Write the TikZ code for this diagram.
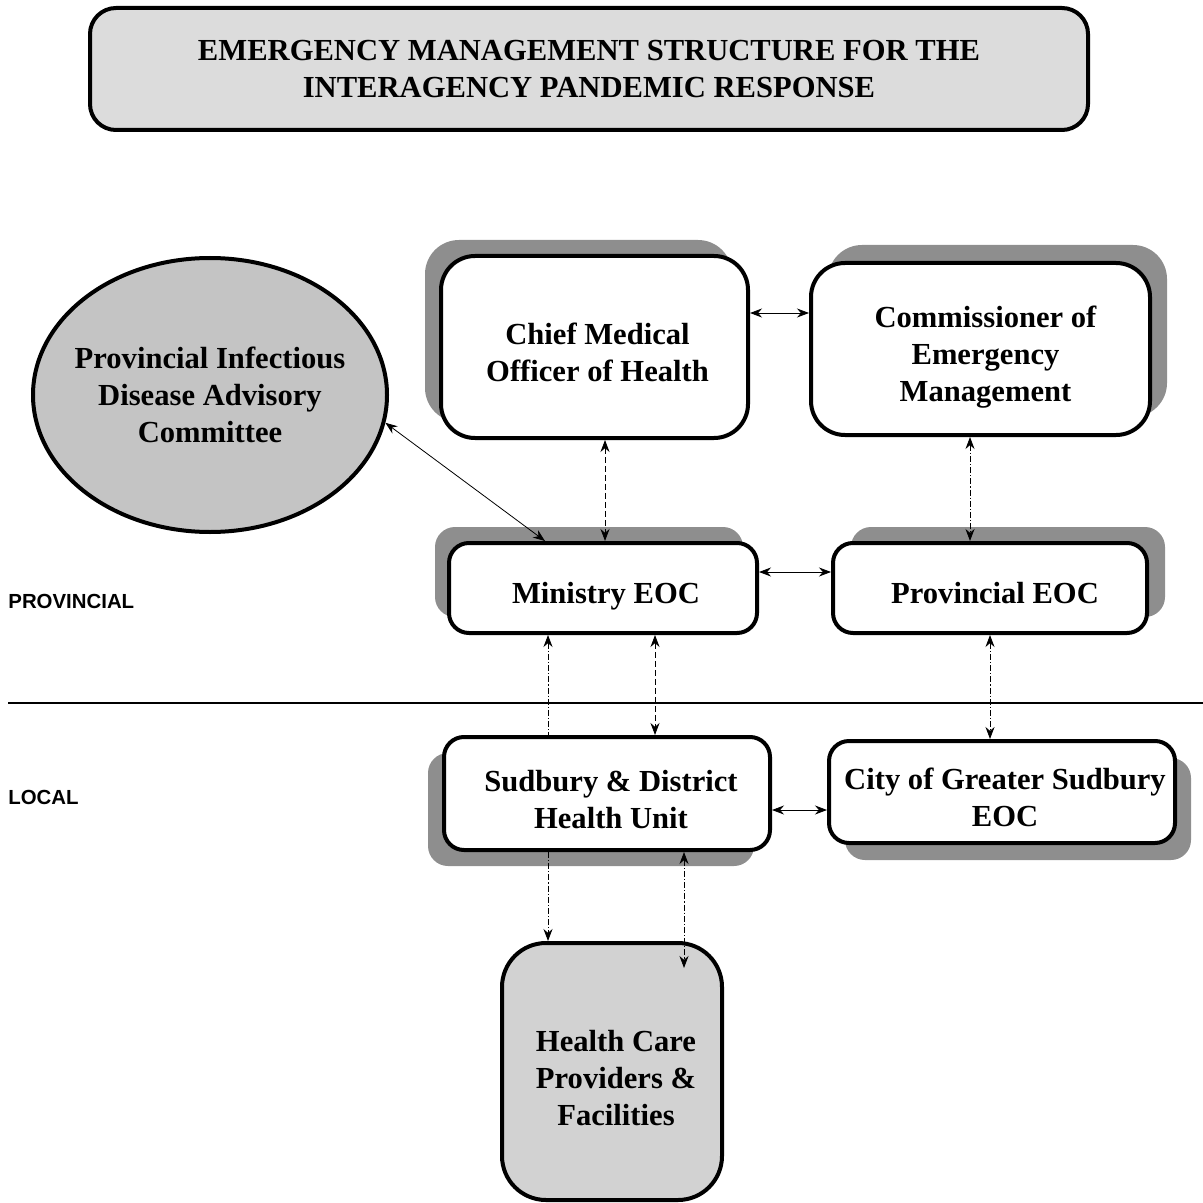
\documentclass[tikz,border=0pt]{standalone}
\usepackage{fontspec}
\setmainfont{Liberation Serif}
\setsansfont{Liberation Sans}
\usetikzlibrary{shadows,shapes.geometric,arrows.meta}
\definecolor{shadegray}{HTML}{8E8E8E}
\definecolor{titlefill}{HTML}{DCDCDC}
\definecolor{ovalfill}{HTML}{C4C4C4}
\definecolor{hcfill}{HTML}{D2D2D2}
\begin{document}
\begin{tikzpicture}[x=0.5pt,y=-0.5pt,
  >={Stealth[length=6pt,width=4.5pt]},
  boxtext/.style={font=\bfseries\fontsize{15.3}{18.5}\selectfont, align=center},
  orgbox/.style={draw=black, line width=2pt, fill=white, rectangle, inner sep=0pt},
  sh/.style 2 args={general shadow={fill=shadegray, shadow xshift=#1, shadow yshift=#2}},
  lvl/.style={font=\sffamily\bfseries\fontsize{10.2}{12}\selectfont, anchor=west, inner sep=0pt},
  link/.style={line width=0.4pt, <->},
  dlink/.style={line width=0.4pt, <->, dash pattern=on 3pt off 1.5pt},
  ddlink/.style={line width=0.4pt, <->, dash pattern=on 3pt off 1pt on 0.6pt off 1pt}
]
\useasboundingbox (0,0) rectangle (1203,1203);

% title
\node[boxtext, draw=black, line width=2pt, fill=titlefill, rounded corners=13pt,
  minimum width=499pt, minimum height=61pt] (title) at (589,69)
  {EMERGENCY MANAGEMENT STRUCTURE FOR THE\\INTERAGENCY PANDEMIC RESPONSE};

% advisory committee
\node[boxtext, ellipse, draw=black, line width=2pt, fill=ovalfill,
  minimum width=177pt, minimum height=137pt, inner xsep=-6pt, inner ysep=0pt] (pidac) at (210,395)
  {Provincial Infectious\\Disease Advisory\\Committee};

% provincial boxes
\node[orgbox, rounded corners=17pt, minimum width=153.5pt, minimum height=91pt, sh={-8pt}{8pt},
  label={[boxtext, xshift=1.5pt, yshift=-2.5pt]center:Chief Medical\\Officer of Health}]
  (cmoh) at (594.5,347) {};
\node[orgbox, rounded corners=17pt, minimum width=169.5pt, minimum height=86pt, sh={8.5pt}{9pt},
  label={[boxtext, xshift=2.5pt, yshift=-4pt]center:Commissioner of\\Emergency\\Management}]
  (comm) at (980.5,349) {};
\node[orgbox, rounded corners=10pt, minimum width=154pt, minimum height=45pt, sh={-7pt}{8pt},
  label={[boxtext, xshift=1.5pt, yshift=-4pt]center:Ministry EOC}]
  (min) at (603,588) {};
\node[orgbox, rounded corners=10pt, minimum width=157pt, minimum height=45pt, sh={9pt}{8pt},
  label={[boxtext, xshift=2.5pt, yshift=-2.5pt]center:Provincial EOC}]
  (prov) at (990,588) {};

% local boxes
\node[orgbox, rounded corners=10pt, minimum width=163pt, minimum height=56.5pt, sh={-8pt}{-8pt},
  label={[boxtext, xshift=2pt, yshift=-3pt]center:Sudbury \& District\\Health Unit}]
  (sud) at (607,793.5) {};
\node[orgbox, rounded corners=10pt, minimum width=173pt, minimum height=51pt, sh={8pt}{-8.5pt},
  label={[boxtext, xshift=1.5pt, yshift=-2.5pt]center:City of Greater Sudbury\\EOC}]
  (city) at (1002,792) {};
\node[orgbox, fill=hcfill, rounded corners=22pt, minimum width=110pt, minimum height=128.5pt,
  label={[boxtext, xshift=2pt, yshift=-3.5pt]center:Health Care\\Providers \&\\Facilities}]
  (hc) at (612,1071.5) {};

% level labels and divider
\node[lvl] (provlbl) at (8,601) {PROVINCIAL};
\node[lvl] (locallbl) at (8,797) {LOCAL};
\coordinate (divl) at (8,703);
\coordinate (divr) at (1203,703);
\draw[line width=1pt] (divl) -- (divr);

% guide coordinates
\coordinate (h1) at (0,313);
\coordinate (h2) at (0,572);
\coordinate (h3) at (0,810);
\coordinate (v1) at (605,0);
\coordinate (v2) at (970,0);
\coordinate (v3) at (548,0);
\coordinate (v4) at (655,0);
\coordinate (v5) at (990,0);
\coordinate (v6) at (684,0);
\coordinate (pm) at (545,541);

% connectors
\draw[link] (cmoh.east |- h1) -- (comm.west |- h1);
\draw[dlink] (cmoh.south -| v1) -- (min.north -| v1);
\draw[ddlink] (comm.south -| v2) -- (prov.north -| v2);
\draw[link] (min.east |- h2) -- (prov.west |- h2);
\draw[link] (pidac.-9) -- (pm);
\draw[ddlink, <-] (min.south -| v3) -- (sud.north -| v3);
\draw[dlink] (min.south -| v4) -- (sud.north -| v4);
\draw[ddlink] (prov.south -| v5) -- (city.north -| v5);
\draw[link] (sud.east |- h3) -- (city.west |- h3);
\draw[ddlink, ->] (sud.south -| v3) -- (hc.north -| v3);
\coordinate (hcin) at (684,968);
\draw[ddlink] (sud.south -| v6) -- (hcin);
\end{tikzpicture}
\end{document}
